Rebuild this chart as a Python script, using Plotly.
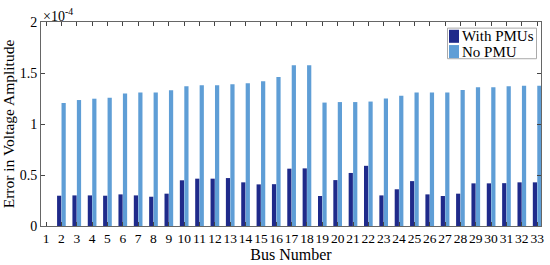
import plotly.graph_objects as go

# bus numbers and voltage amplitude error (x 1e-4)
buses = list(range(1, 34))
with_pmus = [0, 0.297, 0.30, 0.30, 0.297, 0.31, 0.30, 0.287, 0.317, 0.448,
             0.464, 0.464, 0.47, 0.428, 0.408, 0.41, 0.562, 0.565, 0.294, 0.45,
             0.52, 0.59, 0.30, 0.36, 0.44, 0.31, 0.294, 0.317, 0.418, 0.418,
             0.42, 0.428, 0.428]
no_pmu = [0, 1.206, 1.235, 1.248, 1.258, 1.30, 1.31, 1.31, 1.33, 1.37,
          1.38, 1.38, 1.39, 1.40, 1.42, 1.46, 1.575, 1.575, 1.21, 1.215,
          1.215, 1.22, 1.25, 1.277, 1.31, 1.31, 1.31, 1.333, 1.36, 1.36,
          1.37, 1.375, 1.375]
yticks = [0, 0.5, 1, 1.5, 2]
names = ["With PMUs", "No PMU"]
colors = ["#1f2a8a", "#5f9ed6"]

font = "Liberation Serif, DejaVu Serif, serif"

fig = go.Figure()
fig.add_bar(x=buses, y=with_pmus, name=names[0], marker_color=colors[0],
            marker_line_width=0)
fig.add_bar(x=buses, y=no_pmu, name=names[1], marker_color=colors[1],
            marker_line_width=0)

fig.update_layout(
    width=550, height=265,
    margin=dict(l=41, r=9, t=22, b=39),
    barmode="group", bargap=0.42, bargroupgap=0.05,
    plot_bgcolor="white", paper_bgcolor="white",
    font=dict(family=font, size=14, color="black"),
    showlegend=False,
)
fig.update_xaxes(range=[0.67, 33.25], tickvals=buses, ticks="inside",
                 tickangle=0, automargin=False, tickfont=dict(size=13.5),
                 ticklen=4, tickcolor="#444", showline=True, linecolor="#666",
                 mirror="ticks", showgrid=False, zeroline=False,
                 title=dict(text="Bus Number", font=dict(size=16), standoff=1))
fig.update_yaxes(range=[0, 2], tickvals=yticks, ticktext=["0", "0.5", "1", "1.5", "2"],
                 ticks="inside", ticklen=4, tickcolor="#444", showline=True,
                 automargin=False,
                 linecolor="#666", mirror="ticks", showgrid=False, zeroline=False,
                 title=dict(text="Error in Voltage Amplitude", font=dict(size=15.5),
                            standoff=2))
fig.add_annotation(x=0, y=1, xref="paper", yref="paper", xanchor="left",
                   yanchor="bottom", showarrow=False, yshift=-4,
                   text="×10<sup>-4</sup>", font=dict(size=14))

# legend box drawn by hand to match the compact MATLAB style
fig.add_shape(type="rect", xref="paper", yref="paper", x0=0.813, x1=0.991,
              y0=0.82, y1=0.97, line=dict(color="#aaa", width=1),
              fillcolor="white")
for i, (nm, c) in enumerate(zip(names, colors)):
    yc = 0.93 - i * 0.075
    fig.add_shape(type="rect", xref="paper", yref="paper", x0=0.816, x1=0.836,
                  y0=yc - 0.032, y1=yc + 0.032, line_width=0, fillcolor=c)
    fig.add_annotation(x=0.838, y=yc, xref="paper", yref="paper",
                       xanchor="left", yanchor="middle", showarrow=False,
                       text=nm, font=dict(size=15))

# page body has an 8px default margin; drop it so the figure sits at 0,0
fig.write_html("out.html", config={"displayModeBar": False},
               post_script="document.body.style.margin='0';")
